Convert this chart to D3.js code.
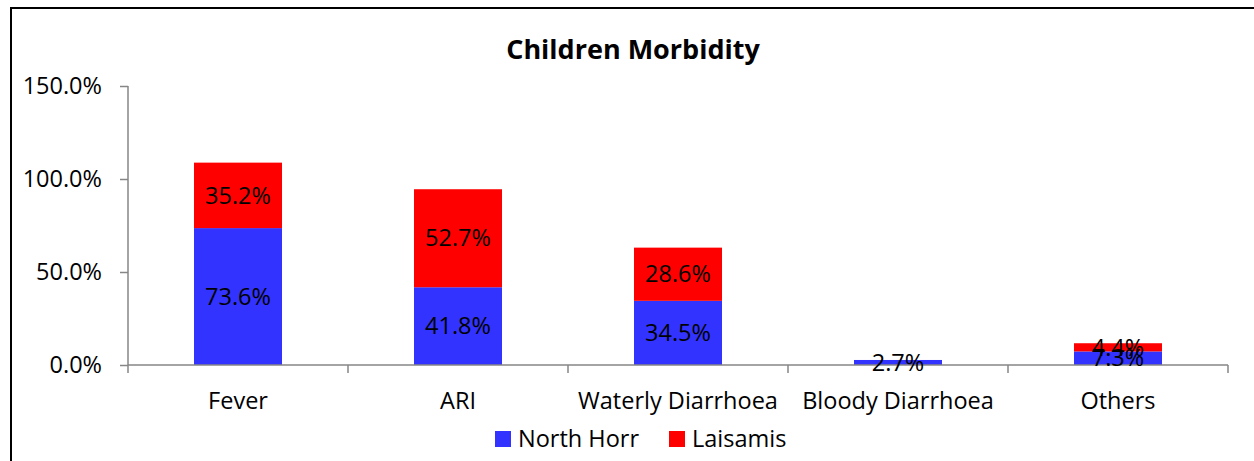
<!DOCTYPE html>
<html>
<head>
<meta charset="utf-8">
<script src="https://cdn.jsdelivr.net/npm/d3@7"></script>
<style>
  body { margin: 0; background: #fff; }
  text { font-family: "Open Sans", "Noto Sans", sans-serif; }
</style>
</head>
<body>
<svg id="chart" width="1254" height="461"></svg>
<script>
'use strict';

// chart data
var categories = ['Fever', 'ARI', 'Waterly Diarrhoea', 'Bloody Diarrhoea', 'Others'];
var northHorr = [73.6, 41.8, 34.5, 2.7, 7.3];
var laisamis = [35.2, 52.7, 28.6, 0, 4.4];
var seriesNames = ['North Horr', 'Laisamis'];
var seriesColors = ['#3333FF', '#FF0000'];
var yTicks = [0, 50, 100, 150];

var svg = d3.select('#chart');

// chart frame
svg.append('rect')
    .attr('x', 11).attr('y', 8)
    .attr('width', 1250).attr('height', 460)
    .attr('fill', 'none')
    .attr('stroke', '#000')
    .attr('stroke-width', 2);

var plotLeft = 128, plotRight = 1228, plotTop = 86, plotBottom = 365;
var fontSize = '23.5px';

var x = d3.scaleBand()
    .domain(categories)
    .range([plotLeft, plotRight])
    .paddingInner(0.6)
    .paddingOuter(0.3);

var y = d3.scaleLinear()
    .domain([0, 150])
    .range([plotBottom, plotTop]);

// stack the two series
var rows = categories.map(function(c, i) {
    return { cat: c, 'North Horr': northHorr[i], 'Laisamis': laisamis[i] };
});
var stacked = d3.stack().keys(seriesNames)(rows);

var bandStep = (plotRight - plotLeft) / categories.length;

// bars
stacked.forEach(function(layer, si) {
    svg.append('g')
        .selectAll('rect')
        .data(layer.filter(function(d) { return d[1] - d[0] > 0; }))
        .join('rect')
        .attr('x', function(d) { return x(d.data.cat); })
        .attr('width', x.bandwidth())
        .attr('y', function(d) { return y(d[1]); })
        .attr('height', function(d) { return y(d[0]) - y(d[1]); })
        .attr('fill', seriesColors[si]);
});

// y axis
var yAxis = svg.append('g')
    .attr('transform', 'translate(' + plotLeft + ',0)')
    .call(d3.axisLeft(y).tickValues(yTicks).tickSize(8).tickPadding(18)
        .tickFormat(function(d) { return d.toFixed(1) + '%'; }));
yAxis.select('.domain').attr('stroke', '#868686').attr('stroke-width', 1.5)
    .attr('d', 'M0,' + plotTop + 'V' + plotBottom);
yAxis.selectAll('.tick line').attr('stroke', '#868686').attr('stroke-width', 1.5);
yAxis.selectAll('.tick text')
    .attr('fill', '#000')
    .style('font-size', fontSize);

// x axis with ticks at band boundaries
var xAxisG = svg.append('g');
xAxisG.append('line')
    .attr('x1', plotLeft).attr('x2', plotRight)
    .attr('y1', plotBottom).attr('y2', plotBottom)
    .attr('stroke', '#868686').attr('stroke-width', 1.5);
xAxisG.selectAll('line.tk')
    .data(d3.range(categories.length + 1))
    .join('line')
    .attr('class', 'tk')
    .attr('x1', function(i) { return plotLeft + i * bandStep; })
    .attr('x2', function(i) { return plotLeft + i * bandStep; })
    .attr('y1', plotBottom).attr('y2', plotBottom + 8)
    .attr('stroke', '#868686').attr('stroke-width', 1.5);
xAxisG.selectAll('text')
    .data(categories)
    .join('text')
    .attr('x', function(d) { return x(d) + x.bandwidth() / 2; })
    .attr('y', 409)
    .attr('text-anchor', 'middle')
    .style('font-size', fontSize)
    .text(function(d) { return d; });

// data labels
stacked.forEach(function(layer) {
    svg.append('g')
        .selectAll('text')
        .data(layer.filter(function(d) { return d[1] - d[0] > 0; }))
        .join('text')
        .attr('x', function(d) { return x(d.data.cat) + x.bandwidth() / 2; })
        .attr('y', function(d) { return (y(d[0]) + y(d[1])) / 2; })
        .attr('dy', '0.35em')
        .attr('text-anchor', 'middle')
        .style('font-size', fontSize)
        .attr('fill', '#000')
        .text(function(d) { return (d[1] - d[0]).toFixed(1) + '%'; });
});

// title
svg.append('text')
    .attr('x', 633).attr('y', 59)
    .attr('text-anchor', 'middle')
    .style('font-size', '27px')
    .style('font-weight', 'bold')
    .text('Children Morbidity');

// legend
var legend = svg.append('g');
var legendX = [495, 669];
seriesNames.forEach(function(name, i) {
    legend.append('rect')
        .attr('x', legendX[i]).attr('y', 431)
        .attr('width', 16).attr('height', 16)
        .attr('fill', seriesColors[i]);
    legend.append('text')
        .attr('x', legendX[i] + 23).attr('y', 447)
        .style('font-size', fontSize)
        .text(name);
});
</script>
</body>
</html>
